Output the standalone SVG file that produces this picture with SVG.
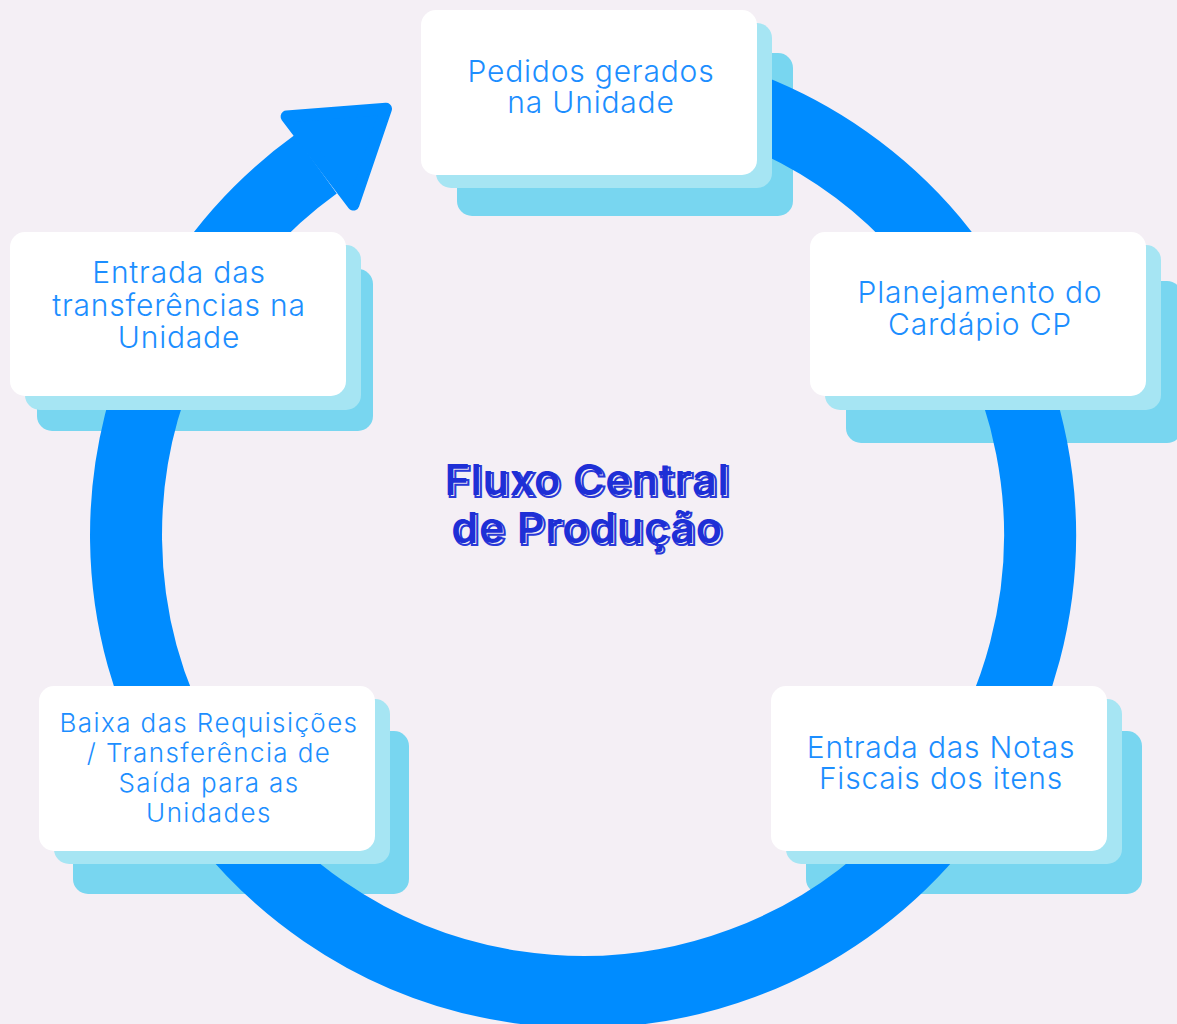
<svg xmlns="http://www.w3.org/2000/svg" width="1177" height="1024" viewBox="0 0 1177 1024">
<style>
.bg{fill:#F4EFF5}
.sh2{fill:#78D6F0}
.sh1{fill:#A6E5F3}
.card{fill:#FFFFFF}
.lbl{font-family:Inter,"Noto Sans","DejaVu Sans",sans-serif;font-weight:300;font-size:30px;letter-spacing:0.8px;fill:#1C8EFF;text-anchor:middle}
.sm{font-size:26px;letter-spacing:1.4px}
.ttl{font-family:Inter,"Noto Sans","DejaVu Sans",sans-serif;font-weight:600;font-size:43px;letter-spacing:0.8px;text-anchor:middle}
</style>
<rect class="bg" x="0" y="0" width="1177" height="1024"/>
<g id="back-layers">
  <rect class="sh2" x="457" y="53" width="336" height="163" rx="15"/>
  <rect class="sh2" x="846" y="281" width="336" height="162" rx="15"/>
  <rect class="sh2" x="806" y="731" width="336" height="163" rx="15"/>
  <rect class="sh2" x="73" y="731" width="336" height="163" rx="15"/>
  <rect class="sh2" x="37" y="269" width="336" height="162" rx="15"/>
</g>
<g id="connectors">
  <path d="M 543.2 79.7 A 457 457 0 1 1 315.7 164.3" fill="none" stroke="#008CFF" stroke-width="72"/>
  <polygon points="286.6,116.6 386,108.7 353.4,204.6" fill="#008CFF" stroke="#008CFF" stroke-width="12" stroke-linejoin="round"/>
</g>
<g id="node-pedidos">
  <rect class="sh1" x="436" y="23" width="336" height="165" rx="15"/>
  <rect class="card" x="421" y="10" width="336" height="165" rx="15"/>
  <text class="lbl" x="591" y="82">Pedidos gerados</text>
  <text class="lbl" x="591" y="113">na Unidade</text>
</g>
<g id="node-planejamento">
  <rect class="sh1" x="825" y="245" width="336" height="165" rx="15"/>
  <rect class="card" x="810" y="232" width="336" height="164" rx="15"/>
  <text class="lbl" x="980" y="303">Planejamento do</text>
  <text class="lbl" x="980" y="335">Cardápio CP</text>
</g>
<g id="node-notas">
  <rect class="sh1" x="786" y="699" width="336" height="165" rx="15"/>
  <rect class="card" x="771" y="686" width="336" height="165" rx="15"/>
  <text class="lbl" x="941" y="758">Entrada das Notas</text>
  <text class="lbl" x="941" y="789">Fiscais dos itens</text>
</g>
<g id="node-baixa">
  <rect class="sh1" x="54" y="699" width="336" height="165" rx="15"/>
  <rect class="card" x="39" y="686" width="336" height="165" rx="15"/>
  <text class="lbl sm" x="209" y="732">Baixa das Requisições</text>
  <text class="lbl sm" x="209" y="762">/ Transferência de</text>
  <text class="lbl sm" x="209" y="792">Saída para as</text>
  <text class="lbl sm" x="209" y="822">Unidades</text>
</g>
<g id="node-entrada-transf">
  <rect class="sh1" x="25" y="245" width="336" height="165" rx="15"/>
  <rect class="card" x="10" y="232" width="336" height="164" rx="15"/>
  <text class="lbl" x="179" y="283">Entrada das</text>
  <text class="lbl" x="179" y="316">transferências na</text>
  <text class="lbl" x="179" y="348">Unidade</text>
</g>
<g id="title">
  <text class="ttl" x="589" y="497" fill="#F4EFF5" stroke="#2A3AD8" stroke-width="2">Fluxo Central</text>
  <text class="ttl" x="589" y="545" fill="#F4EFF5" stroke="#2A3AD8" stroke-width="2">de Produção</text>
  <text class="ttl" x="587" y="495" fill="#1E2FD6">Fluxo Central</text>
  <text class="ttl" x="587" y="543" fill="#1E2FD6">de Produção</text>
</g>
</svg>
